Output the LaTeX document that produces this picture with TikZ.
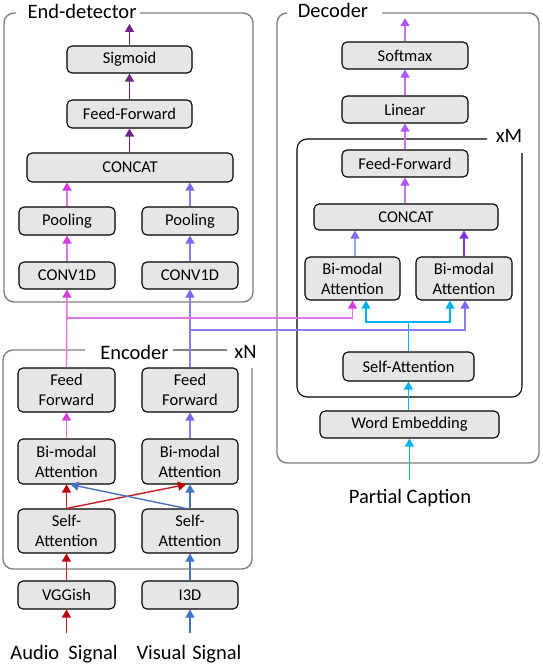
\documentclass[tikz,border=0pt]{standalone}
\usepackage{fontspec}
\setmainfont{Carlito}
\usetikzlibrary{arrows.meta,calc}
\definecolor{boxgray}{RGB}{230,230,230}
\definecolor{framegray}{RGB}{128,128,128}
\definecolor{redH}{RGB}{192,0,0}
\definecolor{redL}{RGB}{204,30,30}
\definecolor{blueH}{RGB}{68,114,196}
\definecolor{magH}{RGB}{214,60,220}
\definecolor{magL}{RGB}{230,115,235}
\definecolor{purH}{RGB}{123,104,238}
\definecolor{purL}{RGB}{140,125,245}
\definecolor{dpur}{RGB}{112,36,132}
\definecolor{vioH}{RGB}{175,85,250}
\definecolor{vioL}{RGB}{195,115,250}
\definecolor{lpH}{RGB}{125,110,240}
\definecolor{lpL}{RGB}{150,165,245}
\definecolor{dvio}{RGB}{125,50,230}
\definecolor{cyanC}{RGB}{0,176,240}
\tikzset{
  blk/.style={draw=black, line width=1.1pt, fill=boxgray, rounded corners=5pt, inner sep=0pt, align=center,
     font=\fontsize{16.5}{20}\selectfont},
  frame/.style={draw=framegray, line width=1.4pt, rounded corners=10pt},
  ttl/.style={inner sep=0pt, font=\fontsize{20.5}{24}\selectfont},
  arr/.style n args={2}{draw=#1, line width=1.4pt, -{Triangle[width=9pt,length=8pt,color=#2,fill=#2]}},
  ln/.style={draw=#1, line width=1.4pt},
}
\begin{document}
\begin{tikzpicture}[x=1pt,y=-1pt]
\useasboundingbox (0,0) rectangle (542,666);
% ---------- frames ----------
\draw[frame] (16,13) -- (4,13) -- (4,302) -- (253,302) -- (253,13) -- (140,13);
\node[ttl] (tEnd) at (82,11) {End-detector};
\draw[frame] (287,13) -- (277,13) -- (277,463) -- (539,463) -- (539,13) -- (382,13);
\node[ttl] (tDec) at (333,10) {Decoder};
\draw[frame] (85,350) -- (3,350) -- (3,569) -- (252,569) -- (252,368);
\draw[draw=framegray, line width=1.4pt] (173,350) -- (227,350);
\node[ttl] (tEnc) at (134.5,352) {Encoder};
\node[ttl] (tN) at (245.5,352) {xN};
\draw[draw=black, line width=1.1pt, rounded corners=10pt] (487,139) -- (297,139) -- (297,397) -- (522,397) -- (522,153);
\node[ttl] (tM) at (509,136) {xM};
% ---------- end-detector ----------
\node[blk, minimum width=125pt, minimum height=27pt] (sig) at (129.5,59.5) {Sigmoid};
\node[blk, minimum width=125pt, minimum height=28pt] (ffE) at (129.5,114) {Feed-Forward};
\node[blk, minimum width=206pt, minimum height=29pt] (catE) at (130,167.5) {CONCAT};
\node[blk, minimum width=96pt, minimum height=28pt] (poolL) at (67,221) {Pooling};
\node[blk, minimum width=96pt, minimum height=28pt] (poolR) at (190,221) {Pooling};
\node[blk, minimum width=96pt, minimum height=27pt] (convL) at (67,275.5) {CONV1D};
\node[blk, minimum width=96pt, minimum height=27pt] (convR) at (190,275.5) {CONV1D};
\coordinate (endOut) at (129.5,24);
\draw[arr={dpur}{dpur}] (sig.north) -- (endOut);
\draw[arr={dpur}{dpur}] (ffE.north) -- (sig.south);
\draw[arr={dpur}{dpur}] (catE.north -| ffE.north) -- (ffE.south);
\draw[arr={magL}{magH}] (poolL.north) -- (poolL.north |- catE.south);
\draw[arr={purL}{purH}] (poolR.north) -- (poolR.north |- catE.south);
\draw[arr={magL}{magH}] (convL.north) -- (poolL.south);
\draw[arr={purL}{purH}] (convR.north) -- (poolR.south);
% ---------- encoder ----------
\node[blk, minimum width=97pt, minimum height=44pt] (ffA) at (66.5,390) {Feed\\Forward};
\node[blk, minimum width=96pt, minimum height=44pt] (ffV) at (190,390) {Feed\\Forward};
\node[blk, minimum width=97pt, minimum height=45pt] (bmA) at (66.5,461.5) {Bi-modal\\Attention};
\node[blk, minimum width=96pt, minimum height=45pt] (bmV) at (190,461.5) {Bi-modal\\Attention};
\node[blk, minimum width=97pt, minimum height=44pt] (saA) at (66.5,531) {Self-\\Attention};
\node[blk, minimum width=96pt, minimum height=44pt] (saV) at (190,531) {Self-\\Attention};
\node[blk, minimum width=97pt, minimum height=28pt] (vgg) at (66.5,595) {VGGish};
\node[blk, minimum width=96pt, minimum height=28pt] (i3d) at (190,595) {I3D};
\node[ttl] (aud) at (64,654) {Audio\hspace{0.45em}Signal};
\node[ttl] (vis) at (189,654) {Visual\hspace{0.3em}Signal};
\coordinate (audIn) at (66.5,633);
\coordinate (visIn) at (190,633);
\draw[arr={redL}{redH}] (audIn) -- (vgg.south);
\draw[arr={blueH}{blueH}] (visIn) -- (i3d.south);
\draw[arr={redL}{redH}] (vgg.north) -- (saA.south);
\draw[arr={blueH}{blueH}] (i3d.north) -- (saV.south);
\draw[arr={redL}{redH}] (saA.north) -- (bmA.south);
\draw[arr={blueH}{blueH}] (saV.north) -- (bmV.south);
\coordinate (redEnd) at ($(bmV.south)+(-4,0)$);
\coordinate (blueStart) at ($(saV.north)+(-4,0)$);
\coordinate (blueEnd) at ($(bmA.south)+(4,0)$);
\draw[arr={redL}{redH}] (saA.north) -- (redEnd);
\draw[arr={blueH}{blueH}] (blueStart) -- (blueEnd);
\draw[arr={magL}{magH}] (ffA.north) -- (convL.south);
\draw[arr={purL}{purH}] (ffV.north) -- (convR.south);
\draw[arr={magL}{magH}] (bmA.north) -- (ffA.south);
\draw[arr={purL}{purH}] (bmV.north) -- (ffV.south);
% ---------- decoder ----------
\node[blk, minimum width=126pt, minimum height=27pt] (smax) at (405,55.5) {Softmax};
\node[blk, minimum width=126pt, minimum height=27pt] (lin) at (405,109.5) {Linear};
\node[blk, minimum width=126pt, minimum height=27pt] (ffD) at (405,163.5) {Feed-Forward};
\node[blk, minimum width=184pt, minimum height=26pt] (catD) at (406,217) {CONCAT};
\node[blk, minimum width=95pt, minimum height=43pt] (bmD1) at (352.5,278.5) {Bi-modal\\Attention};
\node[blk, minimum width=96pt, minimum height=43pt] (bmD2) at (464,278.5) {Bi-modal\\Attention};
\node[blk, minimum width=131pt, minimum height=29pt] (saD) at (408.5,366.5) {Self-Attention};
\node[blk, minimum width=179pt, minimum height=27pt] (we) at (409.5,424.5) {Word Embedding};
\node[ttl] (pc) at (410,498) {Partial Caption};
\coordinate (decOut) at (405,18);
\coordinate (pcIn) at (409.5,480);
\draw[arr={vioL}{vioH}] (smax.north) -- (decOut);
\draw[arr={vioL}{vioH}] (lin.north) -- (smax.south);
\draw[arr={vioL}{vioH}] (ffD.north) -- (lin.south);
\draw[arr={vioL}{vioH}] (catD.north -| ffD.north) -- (ffD.south);
\coordinate (b1t) at ($(bmD1.north)+(2.5,0)$);
\draw[arr={lpL}{lpH}] (b1t) -- (b1t |- catD.south);
\draw[arr={dvio}{dvio}] (bmD2.north) -- (bmD2.north |- catD.south);
\draw[arr={cyanC}{cyanC}] (pcIn) -- (we.south);
\draw[arr={cyanC}{cyanC}] (we.north -| saD.north) -- (saD.south);
\coordinate (cj) at (408.5,322);
\coordinate (c1) at ($(bmD1.south)+(13.5,0)$);
\coordinate (c2) at ($(bmD2.south)+(-14,0)$);
\draw[ln=cyanC] (saD.north) -- (cj);
\draw[arr={cyanC}{cyanC}] (cj) -| (c1);
\draw[arr={cyanC}{cyanC}] (cj) -| (c2);
% cross connections encoder -> decoder
\coordinate (mj) at (67,318);
\coordinate (pj) at (190,330);
\coordinate (p2) at ($(bmD2.south)+(1,0)$);
\draw[arr={magL}{magH}] (mj) -| (bmD1.south);
\draw[arr={purL}{purH}] (pj) -| (p2);
\end{tikzpicture}
\end{document}
